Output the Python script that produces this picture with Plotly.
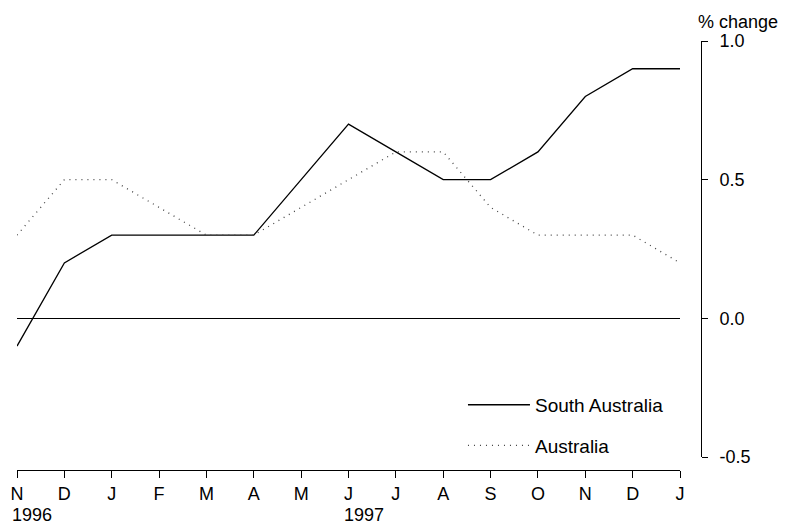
import plotly.graph_objects as go

# Monthly data, Nov 1996 to Jan 1998
months = ["N", "D", "J", "F", "M", "A", "M", "J", "J", "A", "S", "O", "N", "D", "J"]
years = {0: "1996", 7: "1997"}
south_australia = [-0.1, 0.2, 0.3, 0.3, 0.3, 0.3, 0.5, 0.7, 0.6, 0.5, 0.5, 0.6, 0.8, 0.9, 0.9]
australia = [0.3, 0.5, 0.5, 0.4, 0.3, 0.3, 0.4, 0.5, 0.6, 0.6, 0.4, 0.3, 0.3, 0.3, 0.2]
y_ticks = [-0.5, 0.0, 0.5, 1.0]
y_labels = ["-0.5", "0.0", "0.5", "1.0"]

x = list(range(len(months)))
font = dict(family="Liberation Sans, Arial, sans-serif", size=18, color="black")

fig = go.Figure()
fig.add_trace(go.Scatter(x=x, y=south_australia, mode="lines", name="South Australia",
                         line=dict(color="black", width=1.3), legendgroup="a"))
fig.add_trace(go.Scatter(x=x, y=australia, mode="lines", name="Australia",
                         line=dict(color="#444", width=1.3, dash="1px,5px"), legendgroup="b"))

# year labels under the month ticks
for i, yr in years.items():
    fig.add_annotation(x=i, y=0, xref="x", yref="paper", yanchor="top", xanchor="left",
                       text=yr, showarrow=False, xshift=-7, yshift=-33, font=font)

fig.add_annotation(x=1.0, y=1.0, xref="paper", yref="paper", xanchor="left", yanchor="bottom",
                   text="% change", showarrow=False, xshift=-5, yshift=7, font=font)

# page body adds an 8px offset, so the figure is sized to fit the window
fig.update_layout(
    width=781, height=516,
    margin=dict(l=9, r=88, t=33, b=54, autoexpand=False),
    paper_bgcolor="white", plot_bgcolor="white",
    font=font,
    showlegend=True,
    legend=dict(x=0.652, y=0.196, xanchor="left", yanchor="top", bgcolor="rgba(0,0,0,0)",
                itemwidth=62, tracegroupgap=13, font=dict(size=19)),
    xaxis=dict(domain=[0, 0.9693], range=[0, 14], anchor="free", position=0, automargin=False,
               tickvals=x, ticktext=months, ticks="outside", ticklen=7, tickcolor="black",
               showline=True, linecolor="black", linewidth=1, showgrid=False, zeroline=False),
    yaxis=dict(domain=[0.0303, 1], range=[-0.5, 1.0], side="right", anchor="free", position=1.0,
               automargin=False, ticklabelstandoff=8,
               tickvals=y_ticks, ticktext=y_labels, ticks="outside", ticklen=6, tickcolor="black",
               showline=True, linecolor="black", linewidth=1, showgrid=False,
               zeroline=True, zerolinecolor="black", zerolinewidth=1.3),
)

fig.write_html("out.html")
